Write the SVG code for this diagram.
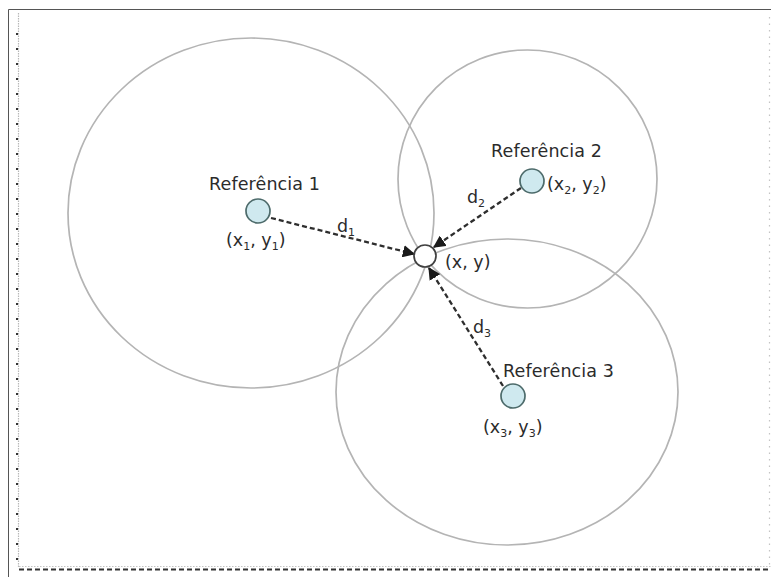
<svg xmlns="http://www.w3.org/2000/svg" width="771" height="577" viewBox="0 0 771 577">
  <style>
    .range { fill: none; stroke: #b4b4b4; stroke-width: 1.7; }
    .ref { fill: #cfe9ef; stroke: #4d6b6b; stroke-width: 1.7; }
    .target { fill: #ffffff; stroke: #404040; stroke-width: 1.7; }
    .lbl { font-family: "DejaVu Sans", Verdana, sans-serif; font-size: 17.5px; fill: #2b2b2b; }
    .sub { font-size: 11px; }
    .dist { fill: none; stroke: #2e2e2e; stroke-width: 2.3; stroke-dasharray: 5 3; }
  </style>
  <defs>
    <marker id="arrow" viewBox="0 0 10 10" refX="9" refY="5" markerWidth="5.4" markerHeight="5.4" orient="auto" markerUnits="strokeWidth">
      <path d="M0,0 L10,5 L0,10 z" fill="#1a1a1a"/>
    </marker>
  </defs>

  <rect width="771" height="577" fill="#ffffff"/>

  <!-- page frame -->
  <g id="frame">
    <path d="M8.5,577 V9.5 H771" fill="none" stroke="#555555" stroke-width="1"/>
    <line x1="18.5" y1="13" x2="18.5" y2="567" stroke="#b8b8b8" stroke-width="1.2" stroke-dasharray="1.5 1"/>
    <line x1="17" y1="33" x2="17" y2="567" stroke="#333333" stroke-width="2" stroke-dasharray="2 13"/>
    <line x1="769.5" y1="17" x2="769.5" y2="567" stroke="#c4c4c4" stroke-width="1.2" stroke-dasharray="1.5 5"/>
    <line x1="19" y1="566.5" x2="771" y2="566.5" stroke="#c4c4c4" stroke-width="1" stroke-dasharray="1.5 1.5"/>
    <line x1="19" y1="569.5" x2="771" y2="569.5" stroke="#333333" stroke-width="2" stroke-dasharray="5 3"/>
  </g>

  <!-- range circles around each reference -->
  <g id="ranges">
    <ellipse class="range" cx="251" cy="213" rx="183" ry="175"/>
    <ellipse class="range" cx="527.5" cy="179" rx="129.5" ry="129"/>
    <ellipse class="range" cx="507" cy="392" rx="171" ry="153"/>
  </g>

  <!-- distance connectors -->
  <g id="connectors">
    <line class="dist" x1="271" y1="218" x2="414" y2="254" marker-end="url(#arrow)"/>
    <line class="dist" x1="521" y1="188" x2="434" y2="247" marker-end="url(#arrow)"/>
    <line class="dist" x1="503" y1="386" x2="429" y2="268" marker-end="url(#arrow)"/>
    <text class="lbl" x="337" y="232">d<tspan class="sub" dy="4">1</tspan></text>
    <text class="lbl" x="467" y="203">d<tspan class="sub" dy="4">2</tspan></text>
    <text class="lbl" x="473" y="333">d<tspan class="sub" dy="4">3</tspan></text>
  </g>

  <g id="ref1">
    <circle class="ref" cx="258" cy="211" r="12"/>
    <text class="lbl" x="209" y="190" textLength="111">Referência 1</text>
    <text class="lbl" x="226" y="246">(x<tspan class="sub" dy="4">1</tspan><tspan dy="-4">, y</tspan><tspan class="sub" dy="4">1</tspan><tspan dy="-4">)</tspan></text>
  </g>

  <g id="ref2">
    <circle class="ref" cx="532" cy="181" r="12"/>
    <text class="lbl" x="491" y="157" textLength="111">Referência 2</text>
    <text class="lbl" x="547" y="190">(x<tspan class="sub" dy="4">2</tspan><tspan dy="-4">, y</tspan><tspan class="sub" dy="4">2</tspan><tspan dy="-4">)</tspan></text>
  </g>

  <g id="ref3">
    <circle class="ref" cx="513" cy="396" r="12"/>
    <text class="lbl" x="503" y="377" textLength="111">Referência 3</text>
    <text class="lbl" x="483" y="433">(x<tspan class="sub" dy="4">3</tspan><tspan dy="-4">, y</tspan><tspan class="sub" dy="4">3</tspan><tspan dy="-4">)</tspan></text>
  </g>

  <g id="target">
    <circle class="target" cx="425" cy="256" r="11"/>
    <text class="lbl" x="445" y="268">(x, y)</text>
  </g>
</svg>
